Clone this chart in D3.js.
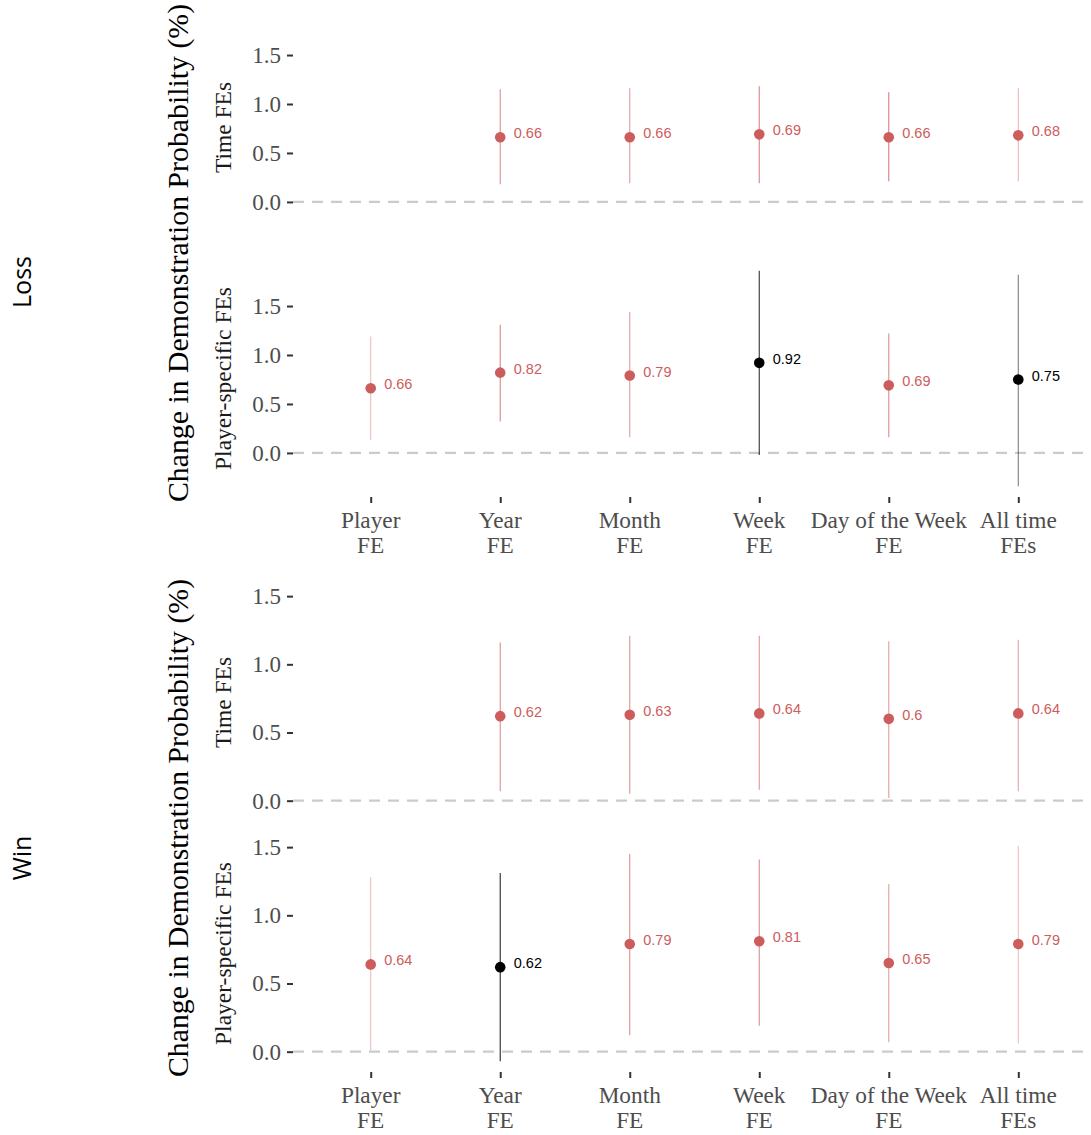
<!DOCTYPE html>
<html>
<head>
<meta charset="utf-8">
<script src="https://cdn.jsdelivr.net/npm/d3@7"></script>
<style>
  html, body { margin: 0; padding: 0; background: #fff; }
  svg { display: block; }
</style>
</head>
<body>
<script>
// ---------------- DATA ----------------
const categories = [["Player", "FE"], ["Year", "FE"], ["Month", "FE"], ["Week", "FE"], ["Day of the Week", "FE"], ["All time", "FEs"]];
const yTicks = [0.0, 0.5, 1.0, 1.5];
const sectionNames = ["Loss", "Win"];
const panelNames = ["Time FEs", "Player-specific FEs"];
const yAxisTitle = "Change in Demonstration Probability (%)";

// Loss – Time FEs
const lossTimeEst = [null, 0.66, 0.66, 0.69, 0.66, 0.68];
const lossTimeLo  = [null, 0.18, 0.19, 0.19, 0.21, 0.21];
const lossTimeHi  = [null, 1.15, 1.16, 1.18, 1.12, 1.16];
const lossTimeWt  = [null, 0.7, 0.6, 0.75, 0.8, 0.45];
// Loss – Player-specific FEs
const lossPlayerEst = [0.66, 0.82, 0.79, 0.92, 0.69, 0.75];
const lossPlayerLo  = [0.13, 0.32, 0.16, -0.02, 0.16, -0.34];
const lossPlayerHi  = [1.19, 1.31, 1.44, 1.86, 1.22, 1.82];
const lossPlayerWt  = [0.4, 0.75, 0.6, 0.8, 0.7, 0.5];
// Win – Time FEs
const winTimeEst = [null, 0.62, 0.63, 0.64, 0.6, 0.64];
const winTimeLo  = [null, 0.07, 0.05, 0.08, 0.02, 0.07];
const winTimeHi  = [null, 1.16, 1.21, 1.21, 1.17, 1.18];
const winTimeWt  = [null, 0.7, 0.65, 0.65, 0.6, 0.55];
// Win – Player-specific FEs
const winPlayerEst = [0.64, 0.62, 0.79, 0.81, 0.65, 0.79];
const winPlayerLo  = [0.01, -0.07, 0.12, 0.19, 0.07, 0.06];
const winPlayerHi  = [1.28, 1.31, 1.45, 1.41, 1.23, 1.51];
const winPlayerWt  = [0.4, 0.85, 0.7, 0.7, 0.6, 0.4];

// ---------------- BUILD ----------------
function rows(est, lo, hi, wt) {
  return est.map((e, i) => ({i, est: e, lo: lo[i], hi: hi[i], wt: wt[i]})).filter(d => d.est !== null);
}
const sections = [
  {name: sectionNames[0], panels: [rows(lossTimeEst, lossTimeLo, lossTimeHi, lossTimeWt), rows(lossPlayerEst, lossPlayerLo, lossPlayerHi, lossPlayerWt)],
   top: 9, labelY: 282},
  {name: sectionNames[1], panels: [rows(winTimeEst, winTimeLo, winTimeHi, winTimeWt), rows(winPlayerEst, winPlayerLo, winPlayerHi, winPlayerWt)],
   top: 584, labelY: 858}
];

const W = 1091, H = 1135;
const panelH = 237, panelGap = 14;
const xLeft = 293, xRight = 1096;
const RED = "#CD5C5C";
const SERIF = "'Liberation Serif', 'Times New Roman', serif";
const SANS = "'Liberation Sans', Arial, sans-serif";

const svg = d3.select("body").append("svg").attr("width", W).attr("height", H);

const x = d3.scalePoint().domain(d3.range(categories.length)).range([xLeft, xRight]).padding(0.6);

sections.forEach(sec => {
  const all = sec.panels.flat();
  const lo = d3.min(all, d => d.lo), hi = d3.max(all, d => d.hi);
  const ex = (hi - lo) * 0.05;

  sec.panels.forEach((data, p) => {
    const pTop = sec.top + p * (panelH + panelGap);
    const y = d3.scaleLinear().domain([lo - ex, hi + ex]).range([pTop + panelH, pTop]);
    const g = svg.append("g");

    // zero reference line
    g.append("line")
      .attr("x1", xLeft).attr("x2", xRight)
      .attr("y1", y(0)).attr("y2", y(0))
      .attr("stroke", "#cbcbcb").attr("stroke-width", 2.2)
      .attr("stroke-dasharray", "11,8");

    // y axis
    const yAxis = d3.axisLeft(y).tickValues(yTicks).tickFormat(d3.format(".1f")).tickSize(6).tickPadding(6);
    const ya = g.append("g").attr("transform", `translate(${xLeft},0)`).call(yAxis);
    ya.select(".domain").remove();
    ya.selectAll(".tick line").attr("stroke", "#333").attr("stroke-width", 2);
    ya.selectAll(".tick text").attr("fill", "#4d4d4d").style("font-family", SERIF).style("font-size", "23px");

    // strip label
    g.append("text")
      .attr("transform", `translate(231,${pTop + panelH / 2}) rotate(-90)`)
      .attr("text-anchor", "middle")
      .style("font-family", SERIF).style("font-size", "23.5px").attr("fill", "#1a1a1a")
      .text(panelNames[p]);

    const col = d => d.lo < 0 ? "#000" : RED;

    // CI lines
    g.selectAll("line.ci").data(data).join("line").attr("class", "ci")
      .attr("x1", d => x(d.i)).attr("x2", d => x(d.i))
      .attr("y1", d => y(d.lo)).attr("y2", d => y(d.hi))
      .attr("stroke", col).attr("stroke-opacity", d => d.wt).attr("stroke-width", 1.1);

    // points
    g.selectAll("circle").data(data).join("circle")
      .attr("cx", d => x(d.i)).attr("cy", d => y(d.est)).attr("r", 5.3)
      .attr("fill", col);

    // value labels
    g.selectAll("text.val").data(data).join("text").attr("class", "val")
      .attr("x", d => x(d.i) + 13.5).attr("y", d => y(d.est) - 4)
      .attr("dy", "0.35em")
      .style("font-family", SANS).style("font-size", "14.5px")
      .attr("fill", col)
      .text(d => String(d.est));

    // x axis on bottom panel
    if (p === 1) {
      const xa = g.append("g").attr("transform", `translate(0,${pTop + panelH})`)
        .call(d3.axisBottom(x).tickSize(6).tickFormat(""));
      xa.select(".domain").remove();
      xa.selectAll(".tick line").attr("stroke", "#333").attr("stroke-width", 2);
      categories.forEach((lines, i) => {
        const t = g.append("text")
          .attr("x", x(i)).attr("y", pTop + panelH + 31)
          .attr("text-anchor", "middle")
          .style("font-family", SERIF).style("font-size", "23.3px").attr("fill", "#4d4d4d");
        lines.forEach((ln, k) => t.append("tspan").attr("x", x(i)).attr("dy", k === 0 ? 0 : 25).text(ln));
      });
    }
  });

  // section y-axis title
  const midY = sec.top + panelH + panelGap / 2;
  svg.append("text")
    .attr("transform", `translate(188,${midY}) rotate(-90)`)
    .attr("text-anchor", "middle")
    .style("font-family", SERIF).style("font-size", "29.8px").attr("fill", "#000")
    .text(yAxisTitle);

  // section label
  svg.append("text")
    .attr("transform", `translate(31,${sec.labelY}) rotate(-90)`)
    .attr("text-anchor", "middle")
    .style("font-family", "'Open Sans', 'Liberation Sans', sans-serif").style("font-size", "25px").attr("fill", "#000")
    .text(sec.name);
});
</script>
</body>
</html>
